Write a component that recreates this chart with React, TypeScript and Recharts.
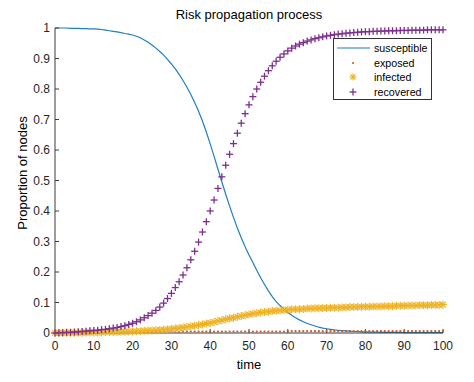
import { ComposedChart, Legend, Line, XAxis, YAxis } from 'recharts'

// time steps 0..100
const times = Array.from({ length: 101 }, (_, i) => i)

const susceptible = [
  1.0, 1.0, 1.0, 1.0, 0.999, 0.999, 0.999, 0.998, 0.998, 0.997,
  0.997, 0.996, 0.995, 0.993, 0.991, 0.989, 0.987, 0.985, 0.982, 0.98,
  0.977, 0.973, 0.968, 0.961, 0.953, 0.944, 0.934, 0.923, 0.911, 0.897,
  0.882, 0.866, 0.848, 0.828, 0.806, 0.782, 0.756, 0.727, 0.695, 0.659,
  0.62, 0.579, 0.537, 0.495, 0.455, 0.416, 0.379, 0.344, 0.312, 0.283,
  0.256, 0.231, 0.206, 0.181, 0.159, 0.138, 0.119, 0.103, 0.09, 0.078,
  0.067, 0.058, 0.05, 0.043, 0.037, 0.031, 0.027, 0.023, 0.019, 0.016,
  0.014, 0.012, 0.01, 0.009, 0.008, 0.007, 0.006, 0.005, 0.005, 0.004,
  0.004, 0.003, 0.003, 0.003, 0.002, 0.002, 0.002, 0.002, 0.002, 0.002,
  0.001, 0.001, 0.001, 0.001, 0.001, 0.001, 0.001, 0.001, 0.001, 0.001,
  0.001,
]

const exposed = [
  0.001, 0.001, 0.001, 0.001, 0.002, 0.002, 0.002, 0.002, 0.002, 0.002,
  0.002, 0.002, 0.002, 0.002, 0.002, 0.003, 0.003, 0.003, 0.003, 0.003,
  0.003, 0.003, 0.003, 0.004, 0.004, 0.004, 0.004, 0.004, 0.004, 0.004,
  0.004, 0.004, 0.004, 0.005, 0.005, 0.005, 0.005, 0.005, 0.005, 0.005,
  0.005, 0.005, 0.005, 0.005, 0.005, 0.005, 0.005, 0.005, 0.005, 0.005,
  0.005, 0.005, 0.005, 0.005, 0.005, 0.005, 0.005, 0.005, 0.005, 0.005,
  0.006, 0.006, 0.006, 0.006, 0.006, 0.006, 0.006, 0.006, 0.006, 0.006,
  0.006, 0.006, 0.006, 0.006, 0.006, 0.006, 0.006, 0.006, 0.006, 0.006,
  0.006, 0.006, 0.006, 0.006, 0.006, 0.006, 0.006, 0.006, 0.006, 0.006,
  0.006, 0.006, 0.006, 0.006, 0.006, 0.006, 0.006, 0.006, 0.006, 0.006,
  0.006,
]

const infected = [
  0.0, 0.0, 0.001, 0.001, 0.001, 0.001, 0.001, 0.001, 0.002, 0.002,
  0.002, 0.002, 0.002, 0.003, 0.003, 0.003, 0.003, 0.004, 0.004, 0.005,
  0.005, 0.006, 0.006, 0.007, 0.008, 0.008, 0.009, 0.01, 0.011, 0.012,
  0.013, 0.015, 0.016, 0.018, 0.02, 0.022, 0.024, 0.026, 0.028, 0.031,
  0.033, 0.036, 0.039, 0.042, 0.045, 0.048, 0.05, 0.053, 0.056, 0.058,
  0.061, 0.063, 0.065, 0.067, 0.069, 0.07, 0.072, 0.073, 0.074, 0.075,
  0.076, 0.077, 0.078, 0.078, 0.079, 0.08, 0.08, 0.081, 0.081, 0.082,
  0.082, 0.083, 0.083, 0.083, 0.084, 0.084, 0.085, 0.085, 0.085, 0.086,
  0.086, 0.086, 0.087, 0.087, 0.087, 0.088, 0.088, 0.088, 0.089, 0.089,
  0.089, 0.09, 0.09, 0.09, 0.091, 0.091, 0.091, 0.092, 0.092, 0.092,
  0.093,
]

const recovered = [
  0.0, 0.001, 0.001, 0.002, 0.002, 0.003, 0.004, 0.005, 0.006, 0.007,
  0.008, 0.009, 0.011, 0.012, 0.014, 0.016, 0.018, 0.021, 0.024, 0.028,
  0.032, 0.037, 0.043, 0.05, 0.057, 0.065, 0.074, 0.085, 0.098, 0.113,
  0.13, 0.149, 0.168, 0.19, 0.214, 0.24, 0.268, 0.298, 0.331, 0.365,
  0.4, 0.436, 0.474, 0.512, 0.55, 0.586, 0.621, 0.655, 0.688, 0.719,
  0.748, 0.775, 0.8, 0.822, 0.842, 0.86, 0.876, 0.891, 0.904, 0.915,
  0.925, 0.934, 0.941, 0.947, 0.952, 0.957, 0.961, 0.965, 0.968, 0.971,
  0.974, 0.976, 0.978, 0.98, 0.981, 0.983, 0.984, 0.985, 0.986, 0.987,
  0.988, 0.988, 0.989, 0.989, 0.99, 0.99, 0.991, 0.991, 0.991, 0.992,
  0.992, 0.992, 0.993, 0.993, 0.993, 0.993, 0.994, 0.994, 0.994, 0.994,
  0.994,
]

const xTicks = [0, 10, 20, 30, 40, 50, 60, 70, 80, 90, 100]
const yTicks = [0, 0.1, 0.2, 0.3, 0.4, 0.5, 0.6, 0.7, 0.8, 0.9, 1]

const data = times.map((t, i) => ({
  t,
  susceptible: susceptible[i],
  exposed: exposed[i],
  infected: infected[i],
  recovered: recovered[i],
}))

const FONT = '"Liberation Sans", Arial, Helvetica, sans-serif'
const AXIS = '#3c3c3c'
const BLUE = '#1f7fc0'
const RED = '#D95319'
const ORANGE = '#EDB120'
const PURPLE = '#7E2F8E'

function PlusMark({ cx, cy, size = 3.5 }: { cx: number; cy: number; size?: number }) {
  return (
    <g stroke={PURPLE} strokeWidth={1.3}>
      <line x1={cx - size} y1={cy} x2={cx + size} y2={cy} />
      <line x1={cx} y1={cy - size} x2={cx} y2={cy + size} />
    </g>
  )
}

function StarMark({ cx, cy, size = 4 }: { cx: number; cy: number; size?: number }) {
  const d = size * 0.72
  return (
    <g stroke={ORANGE} strokeWidth={1.1}>
      <line x1={cx - size} y1={cy} x2={cx + size} y2={cy} />
      <line x1={cx} y1={cy - size} x2={cx} y2={cy + size} />
      <line x1={cx - d} y1={cy - d} x2={cx + d} y2={cy + d} />
      <line x1={cx - d} y1={cy + d} x2={cx + d} y2={cy - d} />
    </g>
  )
}

function DotMark({ cx, cy }: { cx: number; cy: number }) {
  return <circle cx={cx} cy={cy} r={1.1} fill={RED} />
}

const legendRows = [
  { name: 'susceptible', kind: 'line' },
  { name: 'exposed', kind: 'dot' },
  { name: 'infected', kind: 'star' },
  { name: 'recovered', kind: 'plus' },
]

function LegendBox() {
  return (
    <div
      style={{
        border: '1px solid #333',
        background: '#fff',
        width: 99,
        height: 62,
        boxSizing: 'border-box',
        paddingTop: 2,
        fontFamily: FONT,
        fontSize: 10.7,
        color: '#000',
      }}
    >
      {legendRows.map((r) => (
        <div key={r.name} style={{ display: 'flex', alignItems: 'center', height: 14.6 }}>
          <svg width={40} height={12} style={{ display: 'block' }}>
            {r.kind === 'line' && <line x1={3} y1={6} x2={36} y2={6} stroke={BLUE} strokeWidth={1.2} />}
            {r.kind === 'dot' && <DotMark cx={19} cy={6} />}
            {r.kind === 'star' && <StarMark cx={19} cy={6} size={3.5} />}
            {r.kind === 'plus' && <PlusMark cx={19} cy={6} />}
          </svg>
          <span>{r.name}</span>
        </div>
      ))}
    </div>
  )
}

export default function App() {
  const tickStyle = { fill: '#262626', fontSize: 12, fontFamily: FONT }
  return (
    <div style={{ position: 'absolute', left: 0, top: 0, width: 474, height: 382, background: '#fff' }}>
      <div
        style={{
          position: 'absolute',
          left: 0,
          width: 498,
          top: 7,
          textAlign: 'center',
          fontFamily: FONT,
          fontSize: 13,
          color: '#000',
        }}
      >
        Risk propagation process
      </div>
      <div
        style={{
          position: 'absolute',
          left: 22,
          top: 173,
          transform: 'translate(-50%, -50%) rotate(-90deg)',
          whiteSpace: 'nowrap',
          fontFamily: FONT,
          fontSize: 13,
          color: '#000',
        }}
      >
        Proportion of nodes
      </div>
      <div
        style={{
          position: 'absolute',
          left: 0,
          width: 498,
          top: 357,
          textAlign: 'center',
          fontFamily: FONT,
          fontSize: 13,
          color: '#000',
        }}
      >
        time
      </div>
      <ComposedChart width={474} height={382} data={data} margin={{ top: 28, right: 31, bottom: 0, left: 0 }}>
        <XAxis
          dataKey="t"
          type="number"
          domain={[0, 100]}
          ticks={xTicks}
          height={49}
          stroke={AXIS}
          tickSize={-4}
          tickMargin={12}
          tick={tickStyle}
          interval={0}
        />
        <XAxis
          xAxisId="top"
          orientation="top"
          dataKey="t"
          type="number"
          domain={[0, 100]}
          ticks={xTicks}
          height={0}
          stroke={AXIS}
          tickSize={-4}
          tick={false}
        />
        <YAxis
          type="number"
          domain={[0, 1]}
          ticks={yTicks}
          width={55}
          stroke={AXIS}
          tickSize={-4}
          tickMargin={9}
          tick={tickStyle}
          interval={0}
        />
        <YAxis
          yAxisId="right"
          orientation="right"
          type="number"
          domain={[0, 1]}
          ticks={yTicks}
          width={0}
          stroke={AXIS}
          tickSize={-4}
          tick={false}
        />
        <Legend
          layout="vertical"
          align="center"
          verticalAlign="middle"
          wrapperStyle={{ left: 333, top: 38, width: 99, height: 62 }}
          content={() => <LegendBox />}
        />
        <Line
          dataKey="susceptible"
          type="linear"
          stroke={BLUE}
          strokeWidth={1.2}
          dot={false}
          activeDot={false}
          isAnimationActive={false}
        />
        <Line
          dataKey="exposed"
          stroke="none"
          dot={(p: any) => <DotMark key={`e${p.index}`} cx={p.cx} cy={p.cy} />}
          activeDot={false}
          isAnimationActive={false}
        />
        <Line
          dataKey="infected"
          stroke="none"
          dot={(p: any) => <StarMark key={`i${p.index}`} cx={p.cx} cy={p.cy} />}
          activeDot={false}
          isAnimationActive={false}
        />
        <Line
          dataKey="recovered"
          stroke="none"
          dot={(p: any) => <PlusMark key={`r${p.index}`} cx={p.cx} cy={p.cy} />}
          activeDot={false}
          isAnimationActive={false}
        />
      </ComposedChart>
    </div>
  )
}
